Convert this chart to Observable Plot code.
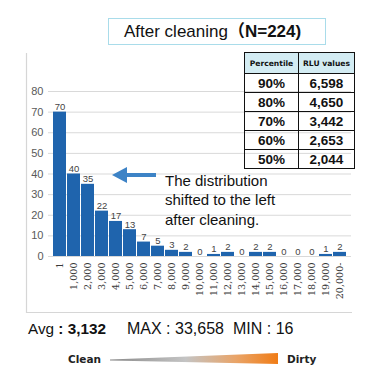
<!DOCTYPE html>
<html>
<head>
<meta charset="utf-8">
<script src="https://cdn.jsdelivr.net/npm/d3@7"></script>
<script src="https://cdn.jsdelivr.net/npm/@observablehq/plot@0.6"></script>
<style>
  html, body { margin: 0; padding: 0; background: #fff; }
  #root { position: relative; width: 367px; height: 378px; overflow: hidden; background: #fff; font-family: "Liberation Sans", Arial, sans-serif; }
  #root > svg.plot { position: absolute; left: 0; top: 0; }
  .abs { position: absolute; }
  #title { left: 108px; top: 18px; width: 201px; padding-left: 15px; height: 25px; border: 1.5px solid #a9dcea; text-align: left; font-size: 17px; line-height: 26px; color: #111; white-space: nowrap; }
  #title b { font-family: "Liberation Sans", "Noto Sans CJK JP", sans-serif; }
  table#pct { position: absolute; left: 244px; top: 52px; border-collapse: collapse; border: 1.5px solid #111; }
  #pct td, #pct th { border: 1px solid #111; padding: 0; text-align: center; color: #111; }
  #pct th { background: #d3ecf3; font-family: "DejaVu Sans", sans-serif; font-weight: bold; font-size: 7.6px; height: 20px; }
  #pct td { font-family: "Liberation Sans", sans-serif; font-weight: bold; font-size: 13.5px; height: 18px; }
  #note { left: 165px; top: 171px; font-size: 15px; line-height: 19.3px; color: #111; white-space: nowrap; }
  .stat { position: absolute; top: 320px; font-size: 16px; color: #111; white-space: nowrap; }
  .lbl { font-family: "DejaVu Sans", sans-serif; font-weight: bold; font-size: 10.5px; color: #222; }
</style>
</head>
<body>
<div id="root"></div>
<script>
// ---- data ----
const categories = ["1","1,000","2,000","3,000","4,000","5,000","6,000","7,000","8,000","9,000","10,000",
  "11,000","12,000","13,000","14,000","15,000","16,000","17,000","18,000","19,000","20,000-"];
const counts = [70,40,35,22,17,13,7,5,3,2,0,1,2,0,2,2,0,0,0,1,2];
const yTicks = [0,10,20,30,40,50,60,70,80];
const titleText = "After cleaning";
const titleN = "（N=224)";
const tableHeaders = ["Percentile","RLU values"];
const percentiles = ["90%","80%","70%","60%","50%"];
const rluValues = ["6,598","4,650","3,442","2,653","2,044"];
const noteLines = ["The distribution","shifted to the left","after cleaning."];
const statAvg = "3,132", statMax = "33,658", statMin = "16";

const data = categories.map((c, i) => ({cat: c, count: counts[i]}));
const root = document.getElementById("root");

// ---- chart ----
const chart = Plot.plot({
  width: 367,
  height: 378,
  marginLeft: 48,
  marginRight: 16,
  marginTop: 91,
  marginBottom: 122,
  style: {fontFamily: "Liberation Sans, Arial, sans-serif", background: "transparent", overflow: "visible"},
  x: {type: "band", domain: categories, paddingInner: 0.07, paddingOuter: 0.02, label: null},
  y: {domain: [0, 80], label: null},
  marks: [
    Plot.gridY({ticks: yTicks, stroke: "#d9d9d9", strokeOpacity: 1}),
    Plot.barY(data, {x: "cat", y: "count", fill: "#1f64ad"}),
    Plot.text(data, {x: "cat", y: "count", text: d => String(d.count), lineAnchor: "bottom", dy: -2, fontSize: 9.5, fill: "#444"}),
    Plot.axisY({ticks: yTicks, tickSize: 0, tickPadding: 5, fontSize: 11, fill: "#595959", label: null}),
    Plot.axisX({tickRotate: -90, tickSize: 0, tickPadding: 6, fontSize: 9.6, fontFamily: "DejaVu Serif", fill: "#3a3a3a", label: null})
  ]
});
root.appendChild(chart);

// ---- decorative overlay: frame lines, arrow, gradient wedge ----
const ns = "http://www.w3.org/2000/svg";
const ov = document.createElementNS(ns, "svg");
ov.setAttribute("width", 367); ov.setAttribute("height", 378);
ov.style.position = "absolute"; ov.style.left = "0"; ov.style.top = "0";
ov.innerHTML = `
  <defs>
    <linearGradient id="g" x1="0" x2="1" y1="0" y2="0">
      <stop offset="0" stop-color="#8a8a8a"/>
      <stop offset="0.45" stop-color="#c4c4c4"/>
      <stop offset="0.75" stop-color="#e9a468"/>
      <stop offset="1" stop-color="#f07c16"/>
    </linearGradient>
  </defs>
  <path d="M26.5,53 V312.5 H352" fill="none" stroke="#d6d6d6" stroke-width="1.2"/>
  <polygon points="112,175 127,167 127,173 156,173 156,177 127,177 127,183" fill="#3d83c6"/>
  <polygon points="110,359.5 278,353 278,364 110,360.5" fill="url(#g)"/>
`;
root.appendChild(ov);

// ---- title ----
const title = document.createElement("div");
title.id = "title"; title.className = "abs";
title.innerHTML = `${titleText}<b>${titleN}</b>`;
root.appendChild(title);

// ---- percentile table ----
const table = document.createElement("table");
table.id = "pct";
let html = `<tr><th style="width:53px">${tableHeaders[0]}</th><th style="width:55px">${tableHeaders[1]}</th></tr>`;
percentiles.forEach((p, i) => { html += `<tr><td>${p}</td><td>${rluValues[i]}</td></tr>`; });
table.innerHTML = html;
root.appendChild(table);

// ---- note ----
const note = document.createElement("div");
note.id = "note"; note.className = "abs";
note.innerHTML = noteLines.join("<br>");
root.appendChild(note);

// ---- stats ----
function addStat(left, html, size) {
  const s = document.createElement("div");
  s.className = "stat"; s.style.left = left + "px";
  if (size) s.style.fontSize = size + "px";
  s.innerHTML = html;
  root.appendChild(s);
}
addStat(28, `Avg <b>: ${statAvg}</b>`, 15.3);
addStat(127, `MAX : ${statMax}`);
addStat(233, `MIN : ${statMin}`);

const clean = document.createElement("div");
clean.className = "abs lbl"; clean.style.left = "68px"; clean.style.top = "353px";
clean.textContent = "Clean";
root.appendChild(clean);
const dirty = document.createElement("div");
dirty.className = "abs lbl"; dirty.style.left = "287px"; dirty.style.top = "353px";
dirty.textContent = "Dirty";
root.appendChild(dirty);
</script>
</body>
</html>
